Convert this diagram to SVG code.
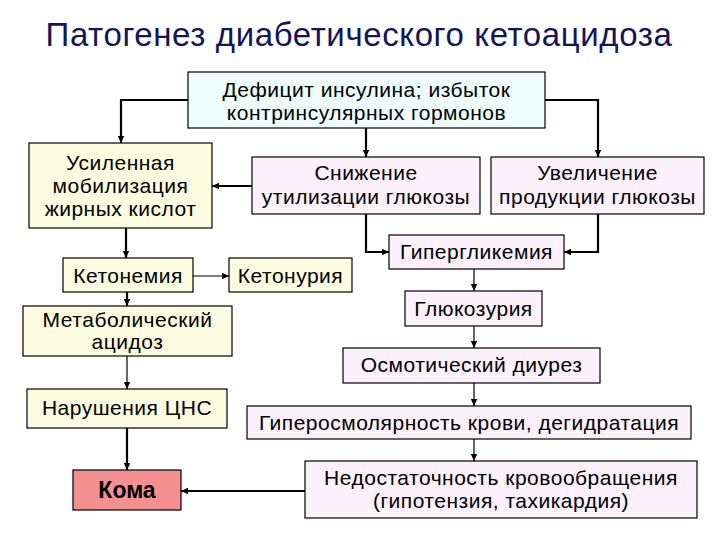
<svg xmlns="http://www.w3.org/2000/svg" width="720" height="540" viewBox="0 0 720 540">
<style>
text{font-family:"Liberation Sans",Arial,sans-serif;fill:#000;text-anchor:middle}
.t{font-size:21px;letter-spacing:0.5px}
.b{font-size:23px;font-weight:bold}
.title{font-size:33px;letter-spacing:0.6px;fill:#14145a}
.box{stroke:#000;stroke-width:1.2}
.cy{fill:#eefcfc}.ye{fill:#fcfce0}.pk{fill:#fcf0fa}.red{fill:#f49090}
.c{fill:none;stroke:#000;marker-end:url(#ah)}
.k{stroke-width:2.2}.n{stroke-width:1.2}
</style>
<defs>
<marker id="ah" markerUnits="userSpaceOnUse" markerWidth="8" markerHeight="8" refX="7" refY="4" orient="auto"><path d="M0,0.8 L7,4 L0,7.2 Z" fill="#000"/></marker>
</defs>
<rect width="720" height="540" fill="#fff"/>
<text class="title" x="359" y="46">Патогенез диабетического кетоацидоза</text>
<g id="connectors">
<path class="c k" d="M188,100 H121 V143"/>
<path class="c k" d="M366,128 V157"/>
<path class="c k" d="M545,100 H598 V157"/>
<path class="c k" d="M252,186 H212"/>
<path class="c k" d="M366,214 V252 H389"/>
<path class="c k" d="M598,214 V252 H564"/>
<path class="c k" d="M126,228 V258"/>
<path class="c n" d="M193,276 H229"/>
<path class="c k" d="M127,292 V306"/>
<path class="c n" d="M127,356 V389"/>
<path class="c k" d="M127,428 V470"/>
<path class="c n" d="M474,269 V291"/>
<path class="c n" d="M474,326 V348"/>
<path class="c n" d="M474,383 V406"/>
<path class="c n" d="M474,439 V461"/>
<path class="c k" d="M305,491 H181"/>
</g>
<g id="n1"><rect class="box cy" x="188" y="72" width="357" height="56"/><text class="t" x="366.5" y="97">Дефицит инсулина; избыток</text><text class="t" x="366.5" y="120">контринсулярных гормонов</text></g>
<g id="n2"><rect class="box ye" x="29" y="143" width="183" height="85"/><text class="t" x="120.5" y="170">Усиленная</text><text class="t" x="120.5" y="193">мобилизация</text><text class="t" x="120.5" y="216">жирных кислот</text></g>
<g id="n3"><rect class="box pk" x="252" y="157" width="228" height="57"/><text class="t" x="366" y="180">Снижение</text><text class="t" x="366" y="204">утилизации глюкозы</text></g>
<g id="n4"><rect class="box pk" x="491" y="157" width="213" height="57"/><text class="t" x="597.5" y="180">Увеличение</text><text class="t" x="597.5" y="204">продукции глюкозы</text></g>
<g id="n5"><rect class="box pk" x="389" y="235" width="175" height="34"/><text class="t" x="476.5" y="259">Гипергликемия</text></g>
<g id="n6"><rect class="box ye" x="63" y="258" width="130" height="34"/><text class="t" x="128" y="283">Кетонемия</text></g>
<g id="n7"><rect class="box ye" x="229" y="258" width="123" height="34"/><text class="t" x="290.5" y="283">Кетонурия</text></g>
<g id="n8"><rect class="box ye" x="23" y="306" width="209" height="50"/><text class="t" x="127.5" y="327">Метаболический</text><text class="t" x="127.5" y="349">ацидоз</text></g>
<g id="n9"><rect class="box pk" x="405" y="291" width="137" height="35"/><text class="t" x="473.5" y="316">Глюкозурия</text></g>
<g id="n10"><rect class="box pk" x="343" y="348" width="257" height="35"/><text class="t" x="471.5" y="372">Осмотический диурез</text></g>
<g id="n11"><rect class="box ye" x="27" y="389" width="200" height="39"/><text class="t" x="127" y="415">Нарушения ЦНС</text></g>
<g id="n12"><rect class="box pk" x="247" y="406" width="444" height="33"/><text class="t" x="469" y="430">Гиперосмолярность крови, дегидратация</text></g>
<g id="n13"><rect class="box pk" x="305" y="461" width="392" height="57"/><text class="t" x="501" y="485">Недостаточность кровообращения</text><text class="t" x="501" y="508">(гипотензия, тахикардия)</text></g>
<g id="n14"><rect class="box red" x="73" y="470" width="108" height="40"/><text class="b" x="127" y="498">Кома</text></g>
</svg>
